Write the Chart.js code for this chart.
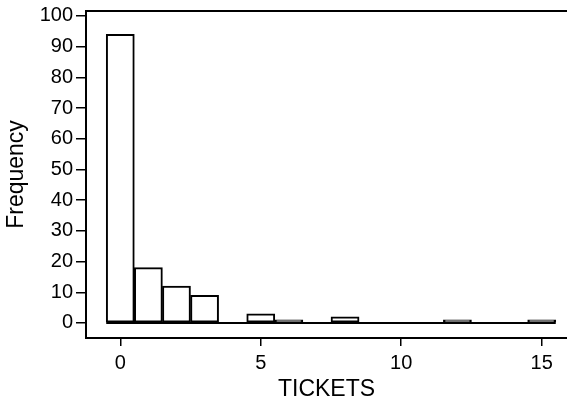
<!DOCTYPE html>
<html lang="en">
<head>
    <meta charset="UTF-8">
    <title>TICKETS histogram</title>
    <style>
        body {
            margin: 0;
            padding: 0;
            background: #fff;
        }
        canvas {
            display: block;
        }
    </style>
    <script src="https://cdn.jsdelivr.net/npm/chart.js"></script>
</head>
<body>
    <canvas id="histChart" width="567" height="403"></canvas>

    <script>
        // Bin centres (number of tickets) and counts
        const tickets = [0, 1, 2, 3, 4, 5, 6, 7, 8, 9, 10, 11, 12, 13, 14, 15];
        const frequency = [94, 18, 12, 9, 0, 3, 1, 0, 2, 0, 0, 0, 1, 0, 0, 1];
        const xTicks = [0, 5, 10, 15];
        const yTicks = [0, 10, 20, 30, 40, 50, 60, 70, 80, 90, 100];

        const tickFont = { family: "'Liberation Sans', Arial, sans-serif", size: 20 };
        const titleFont = { family: "'Liberation Sans', Arial, sans-serif", size: 23 };

        const bars = tickets.map((t, i) => ({ x: t, y: frequency[i] }));
        // zero line under the bins (empty bins show as the base line)
        const baseLine = [
            { x: tickets[0] - 0.5, y: 0 },
            { x: tickets[tickets.length - 1] + 0.5, y: 0 }
        ];

        const ctx = document.getElementById('histChart').getContext('2d');

        new Chart(ctx, {
            type: 'bar',
            data: {
                datasets: [{
                    label: 'Frequency',
                    data: bars,
                    backgroundColor: '#ffffff',
                    borderColor: '#000000',
                    borderWidth: 2,
                    borderSkipped: false,
                    barPercentage: 1,
                    categoryPercentage: 1
                }, {
                    type: 'line',
                    label: 'base',
                    data: baseLine,
                    borderColor: '#000000',
                    borderWidth: 2,
                    pointRadius: 0
                }]
            },
            options: {
                responsive: false,
                animation: false,
                layout: { padding: 0 },
                plugins: {
                    legend: { display: false },
                    tooltip: { enabled: false }
                },
                scales: {
                    x: {
                        type: 'linear',
                        position: 'bottom',
                        offset: false,
                        min: -1.22,
                        max: 15.9,
                        afterBuildTicks: scale => {
                            scale.ticks = xTicks.map(v => ({ value: v }));
                        },
                        afterFit: scale => {
                            scale.height = 65;
                            scale.paddingLeft = 0;
                            scale.paddingRight = 0;
                        },
                        grid: {
                            offset: false,
                            drawOnChartArea: false,
                            drawTicks: true,
                            tickLength: 8,
                            color: '#000',
                            lineWidth: 1.5
                        },
                        border: { color: '#000', width: 2 },
                        ticks: {
                            color: '#000',
                            font: tickFont,
                            padding: 5,
                            maxRotation: 0
                        },
                        title: {
                            display: true,
                            text: 'TICKETS',
                            color: '#000',
                            font: titleFont,
                            padding: { top: 0, bottom: 0 }
                        }
                    },
                    x2: {
                        type: 'linear',
                        position: 'top',
                        offset: false,
                        min: -1.22,
                        max: 15.9,
                        afterFit: scale => { scale.height = 11; },
                        grid: { display: false },
                        ticks: { display: false },
                        border: { display: true, color: '#000', width: 2 }
                    },
                    y: {
                        min: -4.9,
                        max: 101.6,
                        afterBuildTicks: scale => {
                            scale.ticks = yTicks.map(v => ({ value: v }));
                        },
                        afterFit: scale => {
                            scale.width = 86;
                            scale.paddingTop = 0;
                            scale.paddingBottom = 0;
                        },
                        grid: {
                            drawOnChartArea: false,
                            drawTicks: true,
                            tickLength: 10,
                            color: '#000',
                            lineWidth: 1.5
                        },
                        border: { color: '#000', width: 2 },
                        ticks: {
                            color: '#000',
                            font: tickFont,
                            padding: 3
                        },
                        title: {
                            display: true,
                            text: 'Frequency',
                            color: '#000',
                            font: titleFont,
                            padding: { top: 3, bottom: 0 }
                        }
                    }
                }
            }
        });
    </script>
</body>
</html>
